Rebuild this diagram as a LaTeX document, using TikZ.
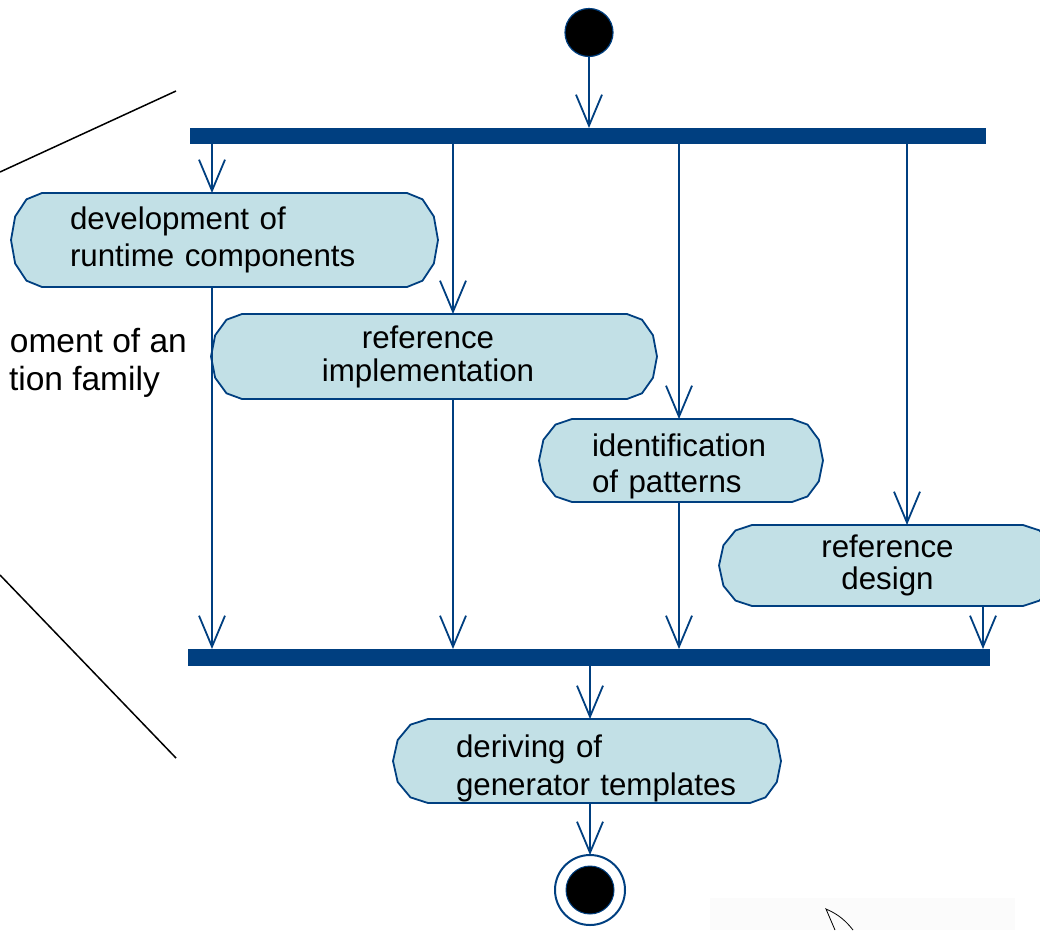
\documentclass[tikz,border=0pt]{standalone}
\usepackage{fontspec}
\setmainfont{Liberation Sans}
\usetikzlibrary{arrows.meta,calc}

\definecolor{umlblue}{RGB}{0,63,128}
\definecolor{actfill}{RGB}{194,224,230}

\pgfdeclarelayer{background}
\pgfsetlayers{background,main}

% Activity outline: flat top and bottom, ends bent like half ellipses
% (sampled every 30 degrees). #1 node, #2 left bulge, #3 right bulge.
\newcommand\actoutline[3]{%
  \begin{pgfonlayer}{background}
  \filldraw[capsule] let \p1=(#1.north west), \p2=(#1.south east),
      \n1={\x1}, \n2={\x2}, \n3={(\y1+\y2)/2}, \n4={(\y1-\y2)/2} in
    (\n1,\y1)
    -- ({\n1-0.5*#2},{\n3+0.866*\n4})
    -- ({\n1-0.866*#2},{\n3+0.5*\n4})
    -- ({\n1-#2},\n3)
    -- ({\n1-0.866*#2},{\n3-0.5*\n4})
    -- ({\n1-0.5*#2},{\n3-0.866*\n4})
    -- (\n1,\y2) -- (\n2,\y2)
    -- ({\n2+0.5*#3},{\n3-0.866*\n4})
    -- ({\n2+0.866*#3},{\n3-0.5*\n4})
    -- ({\n2+#3},\n3)
    -- ({\n2+0.866*#3},{\n3+0.5*\n4})
    -- ({\n2+0.5*#3},{\n3+0.866*\n4})
    -- (\n2,\y1) -- cycle;
  \end{pgfonlayer}}

\tikzset{
  flow/.style={draw=umlblue, line width=1.8pt,
    -{Straight Barb[length=31pt,width=26pt,line width=1.8pt]}},
  capsule/.style={fill=actfill, draw=umlblue, line width=1.8pt, line join=round},
  activity/.style={rectangle, inner sep=0pt, outer sep=0pt,
    font=\fontsize{31.3}{37}\selectfont},
  syncbar/.style={rectangle, fill=umlblue, inner sep=0pt, outer sep=0pt},
  plainline/.style={draw=black, line width=1.5pt},
  sidetext/.style={anchor=base east, inner sep=0pt, font=\fontsize{33.5}{40}\selectfont},
}

\begin{document}
\begin{tikzpicture}[x=1pt,y=1pt]
  \useasboundingbox (0,0) rectangle (1040,-930);

  % faint panel and pointer at the lower right
  \fill[black!1.5] (710,-898) rectangle (1015,-930);
  \draw[black, line width=0.8pt] (835,-930) .. controls (831,-920) .. (826,-909)
    .. controls (838,-914) and (846,-921) .. (853,-930);

  % start and fork
  \node[circle, fill=black, draw=umlblue, line width=1.2pt, minimum size=48pt,
        inner sep=0pt, outer sep=0pt] (start) at (589,-32.5) {};
  \node[syncbar, minimum width=796pt, minimum height=16pt] (fork) at (588,-136) {};

  % activities
  \node[activity, minimum width=365pt, minimum height=94pt, text width=309pt,
        align=left] (dev) at (224.5,-240) {development of\\runtime components};
  \node[activity, minimum width=385pt, minimum height=85pt, align=center,
        font=\fontsize{31.3}{33}\selectfont] (refimpl) at (434.5,-356.5)
        {reference\hspace*{13pt}\\implementation\hspace*{13pt}};
  \node[activity, minimum width=220pt, minimum height=83pt, text width=180pt,
        align=left, font=\fontsize{31.3}{36}\selectfont] (patterns) at (682,-460.5)
        {\rule{0pt}{33.6pt}identification\\of patterns};
  \node[activity, minimum width=271pt, minimum height=81pt, align=center,
        font=\fontsize{31.3}{32}\selectfont] (refdesign) at (887.5,-565.5)
        {reference\\design};
  \node[activity, minimum width=322pt, minimum height=84pt, text width=266pt,
        align=left, font=\fontsize{31.3}{38}\selectfont] (templates) at (589,-761)
        {\rule{0pt}{36.8pt}deriving of\\\mbox{generator templates}};

  \actoutline{dev}{31}{31}
  \actoutline{refimpl}{31}{30}
  \actoutline{patterns}{33}{31}
  \actoutline{refdesign}{33}{33}
  \actoutline{templates}{35}{31}

  % join and final state
  \node[syncbar, minimum width=802pt, minimum height=17pt] (join) at (589,-657.5) {};
  \node[circle, draw=umlblue, line width=2pt, minimum size=70pt,
        inner sep=0pt, outer sep=0pt] (final) at (590,-890) {};
  \filldraw[fill=black, draw=umlblue, line width=1pt] (final.center) circle[radius=24];

  % lanes between fork and join
  \coordinate (laneA) at (212,0);
  \coordinate (laneB) at (453,0);
  \coordinate (laneC) at (679,0);
  \coordinate (laneD) at (907,0);
  \coordinate (laneE) at (983,0);

  \draw[flow] (start.south) -- (fork.north -| start.south);
  \draw[flow] (fork.south -| laneA) -- (dev.north -| laneA);
  \draw[flow] (fork.south -| laneB) -- (refimpl.north -| laneB);
  \draw[flow] (fork.south -| laneC) -- (patterns.north -| laneC);
  \draw[flow] (fork.south -| laneD) -- (refdesign.north -| laneD);
  \draw[flow] (dev.south -| laneA) -- (join.north -| laneA);
  \draw[flow] (refimpl.south -| laneB) -- (join.north -| laneB);
  \draw[flow] (patterns.south -| laneC) -- (join.north -| laneC);
  \draw[flow] (refdesign.south -| laneE) -- (join.north -| laneE);
  \draw[flow] (join.south -| final.north) -- (templates.north -| final.north);
  \draw[flow] (templates.south -| final.north) -- (final.north);

  % zoom lines and the text they come from
  \coordinate (zoomtop) at (176,-91);
  \coordinate (zoombot) at (176,-758);
  \draw[plainline] (0,-172) -- (zoomtop);
  \draw[plainline] (0,-575) -- (zoombot);
  \node[sidetext] (famA) at (187,-352) {oment of an};
  \node[sidetext] (famB) at (160,-390) {tion family};
\end{tikzpicture}
\end{document}
